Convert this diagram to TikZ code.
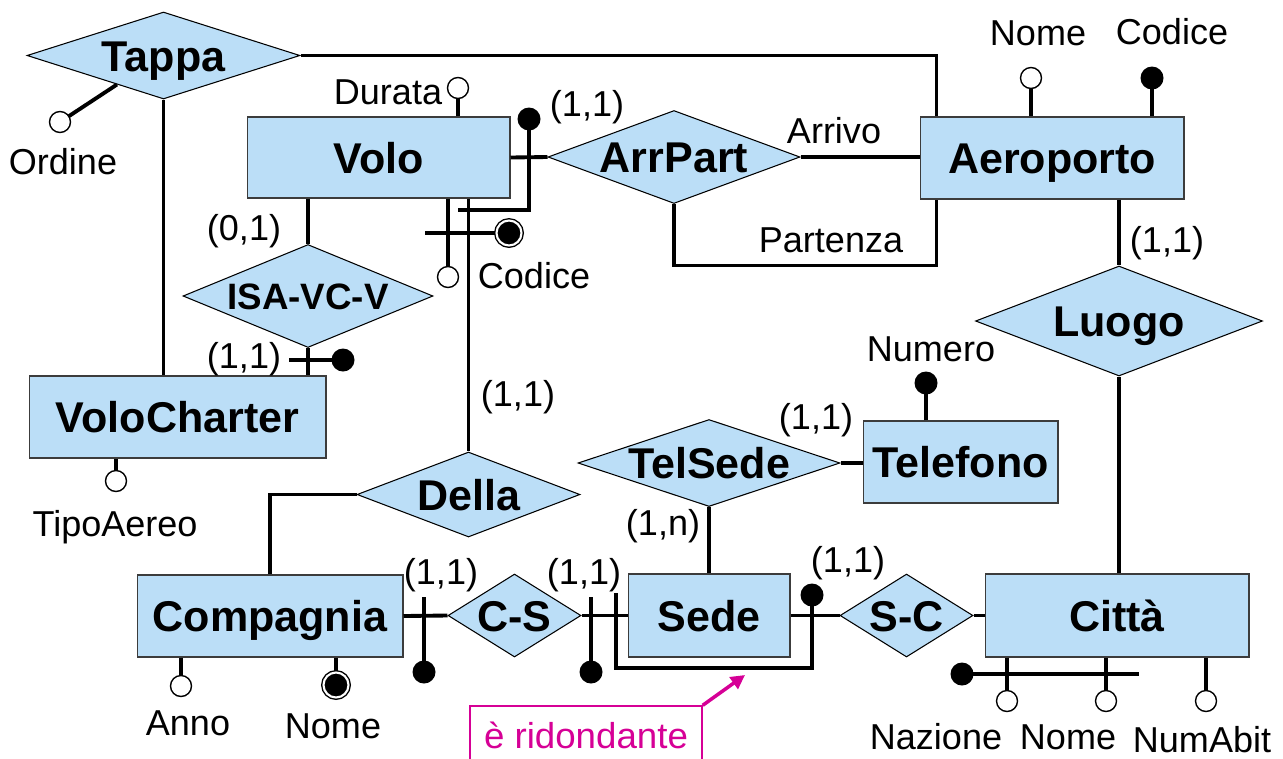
\documentclass[tikz,border=0pt]{standalone}
\usepackage{fontspec}
\usepackage{graphicx}
\setmainfont{Liberation Sans}
\usetikzlibrary{shapes.geometric,calc,arrows.meta}
\definecolor{erblue}{RGB}{187,222,247}
\definecolor{ergray}{RGB}{60,60,60}
\definecolor{mag}{RGB}{214,0,150}
\newcommand\ctext[1]{\smash{\makebox[0pt]{\raisebox{-0.36em}{#1}}}}
\begin{document}
\begin{tikzpicture}[x=0.02cm,y=-0.02cm,
  ent/.style={draw=ergray,line width=0.6pt,fill=erblue,rectangle,inner sep=0pt,font=\fontsize{24.5}{28}\selectfont\bfseries},
  rel/.style={draw=black,line width=0.6pt,fill=erblue,diamond,inner sep=0pt,font=\fontsize{24.5}{28}\selectfont\bfseries},
  lbl/.style={inner sep=0pt,anchor=base,yshift=-7.3pt,font=\fontsize{20.5}{24}\selectfont},
  conn/.style={line width=2.2pt},
  attr/.style={circle,draw,fill=white,line width=0.8pt,minimum size=0.42cm,inner sep=0pt},
  idattr/.style={circle,fill=black,minimum size=0.46cm,inner sep=0pt},
  dbl/.style={circle,draw,fill=black,line width=0.8pt,double=white,double distance=1.2pt,minimum size=0.5cm,inner sep=0pt},
]
\fill[white] (0,0) rectangle (1283,758);
\useasboundingbox (0,0) rectangle (1283,758);

% entities
\node[ent,minimum width=5.26cm,minimum height=1.62cm] (volo) at (378.5,157.5) {\ctext{Volo}};
\node[ent,minimum width=5.28cm,minimum height=1.64cm] (aero) at (1052,158) {\ctext{Aeroporto}};
\node[ent,minimum width=5.94cm,minimum height=1.64cm] (vc) at (177.5,417) {\ctext{VoloCharter}};
\node[ent,minimum width=3.9cm,minimum height=1.64cm] (telefono) at (960.5,462) {\ctext{Telefono}};
\node[ent,minimum width=5.32cm,minimum height=1.64cm] (comp) at (270,616) {\ctext{Compagnia}};
\node[ent,minimum width=3.24cm,minimum height=1.66cm] (sede) at (709,615.5) {\ctext{Sede}};
\node[ent,minimum width=5.28cm,minimum height=1.66cm] (citta) at (1117,615.5) {\ctext{Città}};

% relationships
\node[rel,minimum width=5.46cm,minimum height=1.74cm] (tappa) at (163.5,55.5) {\ctext{Tappa}};
\node[rel,minimum width=5.04cm,minimum height=1.86cm] (arrpart) at (674,157) {\ctext{ArrPart}};
\node[rel,minimum width=5.0cm,minimum height=2.06cm,font=\fontsize{20.9}{24}\selectfont\bfseries] (isa) at (308,296) {\ctext{ISA-VC-V}};
\node[rel,minimum width=5.74cm,minimum height=2.2cm] (luogo) at (1119,321) {\ctext{Luogo}};
\node[rel,minimum width=5.24cm,minimum height=1.74cm] (telsede) at (709,463) {\ctext{TelSede}};
\node[rel,minimum width=4.46cm,minimum height=1.7cm] (della) at (468.5,494.5) {\ctext{Della}};
\node[rel,minimum width=2.66cm,minimum height=1.66cm] (cs) at (514.5,615.5) {\ctext{C-S}};
\node[rel,minimum width=2.66cm,minimum height=1.66cm] (sc) at (906.5,615.5) {\ctext{S-C}};

% helper coordinates
\coordinate (c2) at (458,210);
\coordinate (vcb) at (425,233);
\coordinate (isab) at (289,360);
\coordinate (m1) at (424,597);
\coordinate (m2) at (591,597);
\coordinate (r1) at (616,593);
\coordinate (r2) at (812,668);
\coordinate (cb) at (1139,674);
\coordinate (tip) at (745,675);

% attribute circles (positions)
\coordinate (ordine) at (60,122);
\coordinate (durata) at (458,88);
\coordinate (id1) at (529,119);
\coordinate (vcod) at (448,277);
\coordinate (vcodid) at (509,233);
\coordinate (isaid) at (343,360);
\coordinate (anome) at (1031,78);
\coordinate (acod) at (1152,78);
\coordinate (numero) at (926,383);
\coordinate (tipo) at (116,481);
\coordinate (anno) at (181,686);
\coordinate (cnome) at (336,685);
\coordinate (csid1) at (424,672);
\coordinate (csid2) at (591,672);
\coordinate (scid) at (812,595);
\coordinate (naz) at (1007,701);
\coordinate (cinome) at (1106,701);
\coordinate (numab) at (1206,701);
\coordinate (citid) at (962,674);

% connectors
\draw[conn] (tappa.east) -| ($(aero.north west)+(17,0)$);
\draw[conn] (tappa.south) -- (tappa.south |- vc.north);
\draw[conn] ($(tappa.west)!0.66!(tappa.south)$) -- (ordine);
\draw[conn] (volo.east) -- (arrpart.west);
\draw[conn] (id1) |- (c2);
\draw[conn] (durata |- volo.north) -- (durata);
\draw[conn] (vcod |- volo.south) -- (vcod);
\draw[conn] (vcb) -- (vcodid);
\draw[conn] (della.north |- volo.south) -- (della.north);
\draw[conn] (isa.north |- volo.south) -- (isa.north);
\draw[conn] (isa.south) -- (isa.south |- vc.north);
\draw[conn] (isab) -- (isaid);
\draw[conn] (arrpart.east) -- (arrpart.east -| aero.west);
\draw[conn] (arrpart.south) |- ($(aero.south west)+(17,66)$) -- ($(aero.south west)+(17,0)$);
\draw[conn] (anome |- aero.north) -- (anome);
\draw[conn] (acod |- aero.north) -- (acod);
\draw[conn] (luogo.north |- aero.south) -- (luogo.north);
\draw[conn] (luogo.south) -- (luogo.south |- citta.north);
\draw[conn] (numero |- telefono.north) -- (numero);
\draw[conn] (telsede.east) -- (telsede.east -| telefono.west);
\draw[conn] (telsede.south) -- (telsede.south |- sede.north);
\draw[conn] (della.west) -| (comp.north);
\draw[conn] (comp.east) -- (cs.west);
\draw[conn] (cs.east) -- (sede.west);
\draw[conn] (sede.east) -- (sc.west);
\draw[conn] (sc.east) -- (citta.west);
\draw[conn] (m1) -- (csid1);
\draw[conn] (m2) -- (csid2);
\draw[conn] (r1) |- (r2) -- (scid);
\draw[conn] (naz |- citta.south) -- (naz);
\draw[conn] (cinome |- citta.south) -- (cinome);
\draw[conn] (numab |- citta.south) -- (numab);
\draw[conn] (citid) -- (cb);
\draw[conn] (anno |- comp.south) -- (anno);
\draw[conn] (cnome |- comp.south) -- (cnome);
\draw[conn] (tipo |- vc.south) -- (tipo);

% attribute circles, drawn on top of the connectors
\node[attr] (ordineC) at (ordine) {};
\node[attr] (durataC) at (durata) {};
\node[idattr] (id1C) at (id1) {};
\node[attr] (vcodC) at (vcod) {};
\node[dbl] (vcodidC) at (vcodid) {};
\node[idattr] (isaidC) at (isaid) {};
\node[attr] (anomeC) at (anome) {};
\node[idattr] (acodC) at (acod) {};
\node[idattr] (numeroC) at (numero) {};
\node[attr] (tipoC) at (tipo) {};
\node[attr] (annoC) at (anno) {};
\node[dbl] (cnomeC) at (cnome) {};
\node[idattr] (csid1C) at (csid1) {};
\node[idattr] (csid2C) at (csid2) {};
\node[idattr] (scidC) at (scid) {};
\node[attr] (nazC) at (naz) {};
\node[attr] (cinomeC) at (cinome) {};
\node[attr] (numabC) at (numab) {};
\node[idattr] (citidC) at (citid) {};

% labels
\node[lbl] (l1) at (63,162) {Ordine};
\node[lbl] (l2) at (388,92) {Durata};
\node[lbl] (l3) at (587,104) {(1,1)};
\node[lbl] (l4) at (1038,33) {Nome};
\node[lbl] (l5) at (1172,32) {Codice};
\node[lbl] (l6) at (834,131) {Arrivo};
\node[lbl] (l7) at (831,240) {Partenza};
\node[lbl] (l8) at (1167,240) {(1,1)};
\node[lbl] (l9) at (244,228) {(0,1)};
\node[lbl] (l10) at (534,276) {Codice};
\node[lbl] (l11) at (244,356) {(1,1)};
\node[lbl] (l12) at (518,394) {(1,1)};
\node[lbl] (l13) at (931,349) {Numero};
\node[lbl] (l14) at (816,417) {(1,1)};
\node[lbl] (l15) at (663,523) {(1,n)};
\node[lbl] (l16) at (115,524) {TipoAereo};
\node[lbl] (l17) at (441,572) {(1,1)};
\node[lbl] (l18) at (584,572) {(1,1)};
\node[lbl] (l19) at (848,560) {(1,1)};
\node[lbl] (l20) at (188,723) {Anno};
\node[lbl] (l21) at (333,726) {Nome};
\node[lbl] (l22) at (936,737) {Nazione};
\node[lbl] (l23) at (1068,737) {Nome};
\node[lbl] (l24) at (1202,740) {NumAbit};

% annotation
\node[draw=mag,line width=0.8pt,fill=white,minimum width=4.64cm,minimum height=1.2cm,inner sep=0pt,text=mag,font=\fontsize{20.5}{24}\selectfont] (rid) at (586,736) {\ctext{\resizebox{4.08cm}{\height}{è ridondante}}};
\draw[mag,line width=2pt,-{Triangle[length=8pt,width=8pt]}] (rid.north east) -- (tip);
\end{tikzpicture}
\end{document}
